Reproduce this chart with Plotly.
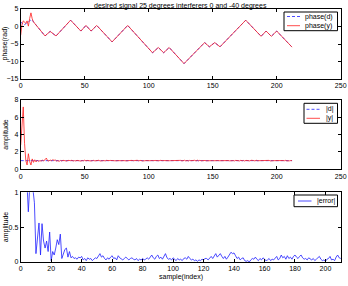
import plotly.graph_objects as go

W, H = 348, 286

# ---------------- data ----------------
title_text = "desired signal 25 degrees interferers 0 and -40 degrees"

phase_d_x = [0, 2.5, 8.5, 19, 23, 27.6, 39, 47, 51, 55, 59.4, 71.4, 83.6, 103, 107.5, 111.7, 116,
             127.6, 143.7, 147.4, 151.6, 155.7, 175.8, 187.8, 191.7, 195.8, 200, 212]
phase_d_y = [1.3, 0.4, 2.0, -2.7, -1.4, -2.7, 1.8, -1.3, 0.3, -1.3, 0.3, -4.4, 0.3, -7.5, -6.0, -7.5, -6.0,
             -10.6, -4.6, -5.8, -4.6, -5.8, 1.8, -2.8, -1.3, -2.8, -1.3, -5.9]

phase_y_x = [0, 1, 2, 3, 4, 5, 6, 7, 8, 9, 10, 19, 23, 27.6, 39, 47, 51, 55, 59.4, 71.4, 83.6, 103, 107.5,
             111.7, 116, 127.6, 143.7, 147.4, 151.6, 155.7, 175.8, 187.8, 191.7, 195.8, 200, 212]
phase_y_y = [-2.5, 0.5, 1.6, 1.3, 0.9, 1.6, 0.1, 2.3, 3.9, 2.2, 1.3, -2.7, -1.4, -2.7, 1.8, -1.3, 0.3, -1.3,
             0.3, -4.4, 0.3, -7.5, -6.0, -7.5, -6.0, -10.6, -4.6, -5.8, -4.6, -5.8, 1.8, -2.8, -1.3, -2.8,
             -1.3, -5.9]

amp_d_x = [0, 212]
amp_d_y = [1.0, 1.0]

amp_y = [2.8, 5.0, 7.2, 3.0, 1.0, 0.5, 1.8, 0.9, 0.5, 1.2, 0.8, 1.1, 0.85, 1.05, 0.9, 1.0, 0.95, 1.05, 0.98, 1.1,
         1.3, 1.0, 0.95, 1.08, 0.97, 1.12, 1.02, 1.08, 0.95, 1.0,
         0.92, 1.02, 0.96, 1.04, 0.98, 1.01, 0.95, 1.03, 0.97, 1.0,
         1.04, 0.96, 1.0, 0.97, 1.03, 0.99, 1.02, 0.95, 1.01, 0.98,
         1.05, 0.97, 1.02, 0.99, 1.04, 0.96, 1.0, 1.03, 0.97, 1.01,
         0.98, 1.04, 0.96, 1.02, 0.99, 1.01, 0.97, 1.03, 0.98, 1.0,
         1.02, 0.97, 1.01, 0.99, 1.03, 0.98, 1.0, 0.97, 1.02, 0.99,
         1.01, 0.98, 1.03, 0.97, 1.0, 1.02, 0.96, 1.03, 0.99, 1.01,
         0.97, 1.04, 0.98, 1.0, 1.03, 0.96, 1.02, 0.99, 1.01, 0.98,
         1.02, 0.99, 1.01, 0.98, 1.0, 1.02, 0.99, 1.01, 0.98, 1.03,
         0.98, 1.0, 1.01, 0.99, 1.0, 1.01, 0.99, 1.0, 1.01, 0.99,
         1.0, 1.02, 0.98, 1.01, 0.99, 1.03, 0.97, 1.02, 1.04, 0.97,
         1.02, 0.96, 1.03, 0.99, 1.01, 0.97, 1.04, 0.96, 1.05, 0.97,
         1.04, 0.98, 1.01, 0.99, 1.02, 0.98, 1.0, 1.01, 0.99, 1.0,
         1.0, 0.99, 1.02, 0.98, 1.01, 0.99, 1.0, 1.02, 0.98, 1.01,
         0.99, 1.0, 1.01, 0.98, 1.02, 0.99, 1.01, 0.97, 1.03, 0.98,
         1.01, 0.97, 1.04, 0.98, 1.02, 0.96, 1.03, 0.99, 1.02, 0.97,
         1.04, 0.98, 1.01, 0.97, 1.04, 0.99, 1.0, 1.02, 0.98, 1.01,
         0.99, 1.02, 0.98, 1.0, 1.03, 0.97, 1.02, 0.99, 1.0, 1.01,
         0.99, 1.02, 0.97, 1.03, 0.98, 1.01, 0.99, 1.03, 0.97, 1.02,
         0.98, 1.01, 1.0]
amp_y_x = list(range(len(amp_y)))

err = [3.0, 5.0, 6.2, 4.5, 1.2, 0.72, 1.1, 1.4, 1.05, 0.85,
       0.12, 0.35, 0.56, 0.1, 0.55, 0.3, 0.2, 0.3, 0.15, 0.43,
       0.02, 0.15, 0.1, 0.2, 0.32, 0.25, 0.4, 0.05, 0.12, 0.18,
       0.2, 0.07, 0.15, 0.06, 0.08, 0.05, 0.06, 0.04, 0.07, 0.06,
       0.08, 0.03, 0.05, 0.02, 0.06, 0.04, 0.05, 0.02, 0.04, 0.06,
       0.05, 0.08, 0.12, 0.07, 0.09, 0.05, 0.03, 0.06, 0.04, 0.07,
       0.09, 0.05, 0.06, 0.03, 0.09, 0.06, 0.04, 0.03, 0.05, 0.07,
       0.05, 0.03, 0.05, 0.06, 0.04, 0.03, 0.05, 0.02, 0.04, 0.03,
       0.05, 0.03, 0.04, 0.06, 0.04, 0.07, 0.1, 0.06, 0.04, 0.08,
       0.1, 0.05, 0.07, 0.04, 0.08, 0.12, 0.06, 0.04, 0.05, 0.03,
       0.06, 0.04, 0.02, 0.05, 0.03, 0.04, 0.02, 0.05, 0.06, 0.04,
       0.08, 0.05, 0.03, 0.04, 0.02, 0.03, 0.01, 0.03, 0.02, 0.04,
       0.03, 0.05, 0.05, 0.03, 0.06, 0.08, 0.05, 0.09, 0.12, 0.07,
       0.09, 0.12, 0.08, 0.05, 0.08, 0.04, 0.07, 0.1, 0.14, 0.12,
       0.13, 0.09, 0.05, 0.07, 0.03, 0.05, 0.06, 0.02, 0.01, 0.02,
       0.0, 0.03, 0.05, 0.04, 0.07, 0.04, 0.02, 0.05, 0.03, 0.06,
       0.04, 0.02, 0.03, 0.05, 0.02, 0.04, 0.03, 0.06, 0.08, 0.03,
       0.05, 0.1, 0.06, 0.08, 0.04, 0.09, 0.05, 0.07, 0.04, 0.08,
       0.1, 0.07, 0.05, 0.08, 0.1, 0.06, 0.04, 0.05, 0.03, 0.06,
       0.04, 0.03, 0.05, 0.02, 0.04, 0.06, 0.08, 0.04, 0.02, 0.03,
       0.01, 0.04, 0.05, 0.08, 0.03, 0.04, 0.02, 0.07, 0.1, 0.06,
       0.05, 0.08, 0.06]
err_x = list(range(len(err)))

x12_ticks = [0, 50, 100, 150, 200, 250]
x3_ticks = [0, 20, 40, 60, 80, 100, 120, 140, 160, 180, 200]
y1_ticks = [-15, -10, -5, 0, 5]
y2_ticks = [0, 2, 4, 6, 8]
y3_ticks = [0, 0.5, 1]
y3_labels = ["0", "0.5", "1"]

# ---------------- layout helpers ----------------
FONT = "Liberation Sans, Arial, sans-serif"
BLUE = "#2020ff"
RED = "#ff2020"
LW = 0.8

def px_x(p):
    return p / W

def px_y(p):
    return 1 - p / H

XL, XR = 20.7, 340.7
panels = [(9.0, 79.0), (100.0, 169.3), (192.3, 262.0)]

fig = go.Figure()

fig.add_trace(go.Scatter(x=phase_d_x, y=phase_d_y, mode="lines", xaxis="x", yaxis="y",
                         line=dict(color=BLUE, width=LW, dash="3px,2px"), showlegend=False))
fig.add_trace(go.Scatter(x=phase_y_x, y=phase_y_y, mode="lines", xaxis="x", yaxis="y",
                         line=dict(color=RED, width=LW), showlegend=False))
fig.add_trace(go.Scatter(x=amp_d_x, y=amp_d_y, mode="lines", xaxis="x2", yaxis="y2",
                         line=dict(color=BLUE, width=LW, dash="3px,2px"), showlegend=False))
fig.add_trace(go.Scatter(x=amp_y_x, y=amp_y, mode="lines", xaxis="x2", yaxis="y2",
                         line=dict(color=RED, width=LW), showlegend=False))
fig.add_trace(go.Scatter(x=err_x, y=err, mode="lines", xaxis="x3", yaxis="y3",
                         line=dict(color=BLUE, width=LW), showlegend=False))

axis_common = dict(showline=True, linecolor="black", linewidth=1, mirror="ticks",
                   ticks="inside", ticklen=3, tickwidth=1, tickcolor="black",
                   showgrid=False, zeroline=False, tickfont=dict(size=7, family=FONT, color="black"),
                   automargin=False)

xdom = [px_x(XL), px_x(XR)]
ydoms = [[px_y(b), px_y(t)] for (t, b) in panels]

fig.update_layout(
    width=W, height=H, margin=dict(l=0, r=0, t=0, b=0),
    paper_bgcolor="white", plot_bgcolor="white",
    xaxis=dict(domain=xdom, anchor="y", range=[0, 250], tickvals=x12_ticks, **axis_common),
    yaxis=dict(domain=ydoms[0], anchor="x", range=[-15, 5], tickvals=y1_ticks, **axis_common),
    xaxis2=dict(domain=xdom, anchor="y2", range=[0, 250], tickvals=x12_ticks, **axis_common),
    yaxis2=dict(domain=ydoms[1], anchor="x2", range=[0, 8], tickvals=y2_ticks, **axis_common),
    xaxis3=dict(domain=xdom, anchor="y3", range=[0, 210], tickvals=x3_ticks, **axis_common),
    yaxis3=dict(domain=ydoms[2], anchor="x3", range=[0, 1], tickvals=y3_ticks, ticktext=y3_labels,
                **axis_common),
)

annotations = []
shapes = []

def text(x, y, s, xanchor="center", yanchor="middle", angle=0, size=7):
    annotations.append(dict(x=px_x(x), y=px_y(y), xref="paper", yref="paper", text=s,
                            showarrow=False, xanchor=xanchor, yanchor=yanchor, textangle=angle,
                            font=dict(size=size, family=FONT, color="black")))

# title (kept fully inside the page) & axis titles
annotations.append(dict(x=px_x((XL + XR) / 2), y=1.0, xref="paper", yref="paper", text=title_text,
                        showarrow=False, xanchor="center", yanchor="top", yshift=-0.5,
                        font=dict(size=7, family=FONT, color="black"), borderpad=0))
text(4.5, (panels[0][0] + panels[0][1]) / 2, "phase(rad)", angle=-90)
text(6.0, (panels[1][0] + panels[1][1]) / 2, "amplitude", angle=-90)
text(6.0, (panels[2][0] + panels[2][1]) / 2, "amplitude", angle=-90)
text((XL + XR) / 2, 276.5, "sample(index)")

def legend_box(x0, y0, x1, y1, entries, lx0, lx1, tx):
    shapes.append(dict(type="rect", xref="paper", yref="paper", x0=px_x(x0), x1=px_x(x1),
                       y0=px_y(y1), y1=px_y(y0), line=dict(color="black", width=1),
                       fillcolor="white", layer="above"))
    for (yy, label, color, dash) in entries:
        shapes.append(dict(type="line", xref="paper", yref="paper", x0=px_x(lx0), x1=px_x(lx1),
                           y0=px_y(yy), y1=px_y(yy), line=dict(color=color, width=LW, dash=dash),
                           layer="above"))
        text(tx, yy, label, xanchor="left", size=7)

legend_box(284, 12, 337.5, 30.7,
           [(16.5, "phase(d)", BLUE, "3px,2px"), (25.7, "phase(y)", RED, "solid")],
           287, 300, 302.5)
legend_box(304, 103.3, 337.5, 123.3,
           [(109.3, "|d|", BLUE, "3px,2px"), (118.3, "|y|", RED, "solid")],
           306.5, 320, 323.5)
legend_box(294, 195, 337.5, 206.7,
           [(201, "|error|", BLUE, "solid")],
           298, 311.5, 314.5)

fig.update_layout(annotations=annotations, shapes=shapes)

fig.write_html("out.html")
